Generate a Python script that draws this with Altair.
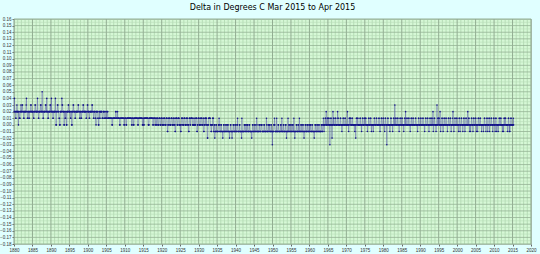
import altair as alt
import pandas as pd

title_text = "Delta in Degrees C Mar 2015 to Apr 2015"

# Monthly deltas, one string per year starting 1880 (Jan..Dec).
# code: '0'..'5' -> 0.00..0.05, 'a'..'d' -> -0.01..-0.04
start_year = 1880
year_codes = [
    "242221122322", "220221112232", "223322211222", "222342211222", "112222332222",
    "222112223322", "222242211222", "223322252211", "222222332242", "221122222332",
    "242222112222", "224200222332", "221100222224", "332222002211", "220022223322",
    "222112200222", "332222112222", "222233222112", "221122223322", "222222112233",
    "222211222222", "233222112222", "110222221100", "221122222211", "112222111122",
    "111221111111", "111111001111", "111111221111", "211111100111", "111111111001",
    "111100111111", "111111111100", "111100111111", "111111001111", "111111111001",
    "100111111111", "111100011111", "111111100111", "110011100111", "000111100011",
    "110000111100", "001111aa0011", "110000111100", "0011100aa111", "110001111000",
    "0aa011110000", "111100001111", "000aa1110011", "111100001100", "001111aa0011",
    "110000111100", "0011aa001110", "1100bb001111", "1100aa000111", "aa00baaa00aa",
    "aaaa0010aaaa", "00aaaabaa00a", "aaaa00aaaa00", "aaaabaa00aaa", "baaa00aaaa00",
    "aaaa001aaaaa", "00aaaaab1aaa", "aaaa00aaa00a", "aa00aaaa00aa", "aaaabaa00aaa",
    "aa00aaaa10aa", "aaaa00aaaa00", "00aaaaaa00aa", "aaaa10aaaa00", "aa00aaaa0aac",
    "aaaa0010aaaa", "a1aaaa00aaaa", "aa00aa1aaaa0", "0aaaaa00abaa", "aa1aa00aaaa0",
    "0aaaa00aa1aa", "baaaa00aaaa0", "0aa1aaaa00aa", "aa00aabaaa00", "aaaa00aaaa00",
    "aa00aaaa00aa", "aaabaa00aaaa", "00aaaa00aaaa", "aa00aaa0010a", "000110200011",
    "001100c00110", "0b0020110000", "110000021100", "000011000a00", "011000011000",
    "0002000a0110", "110000110000", "000a00b01100", "110000001100", "0a0011000011",
    "00110000a000", "110000110a00", "000a00110000", "011000000110", "0a0001100001",
    "1000a011000c", "001100000a00", "110000a00110", "030011000011", "000a00110000",
    "110000a00110", "200011000011", "000a00110000", "110000001100", "000a00110000",
    "011000001100", "00a001100001", "1000a0011000", "011002a00110", "000a00300110",
    "110020a00011", "00a001100001", "1000a0011000", "0110a0000120", "0a0011000011",
    "0000a0110a00", "011000a00110", "0a0011000020", "0110a00a0011", "000a01100001",
    "10a000a01100", "0011000a0000", "0a0011000a00", "110a00011a00", "0011000a0011",
    "000a0110a000", "0a0011000110", "000a00a01100", "1100000a0011", "0a0a00110000",
    "0010",
]
code_values = {"0": 0.0, "1": 0.01, "2": 0.02, "3": 0.03, "4": 0.04, "5": 0.05,
               "a": -0.01, "b": -0.02, "c": -0.03, "d": -0.04}

x_ticks = [1880, 1885, 1890, 1895, 1900, 1905, 1910, 1915, 1920, 1925, 1930, 1935,
           1940, 1945, 1950, 1955, 1960, 1965, 1970, 1975, 1980, 1985, 1990, 1995,
           2000, 2005, 2010, 2015, 2020]
y_ticks = [round(-0.18 + 0.01 * i, 2) for i in range(35)]
x_minor = [y for y in range(1880, 2021) if y % 5 != 0]
y_minor = [round(-0.175 + 0.01 * i, 3) for i in range(34)]

rows = []
for i, s in enumerate(year_codes):
    for m, c in enumerate(s):
        rows.append({"t": start_year + i + (m + 0.5) / 12.0, "v": code_values[c]})
df = pd.DataFrame(rows)

xs = alt.Scale(domain=[1880, 2020], nice=False, zero=False)
ys = alt.Scale(domain=[-0.18, 0.16], nice=False, zero=False)

x_axis = alt.Axis(values=x_ticks, format="d", labelFontSize=4.5, tickSize=2,
                  labelPadding=1, grid=False, title=None, labelColor="#333333",
                  domain=False, tickColor="#666666", labelFlush=False,
                  labelOverlap=False)
y_axis = alt.Axis(values=y_ticks, format=".2f", labelFontSize=4.5, tickSize=2,
                  labelPadding=1, grid=False, title=None, labelColor="#333333",
                  domain=False, tickColor="#666666", labelFlush=False,
                  labelOverlap=False)

minor_x = alt.Chart(pd.DataFrame({"x": x_minor})).mark_rule(
    color="#a9d3a9", strokeWidth=0.7).encode(x=alt.X("x:Q", scale=xs, axis=x_axis))
minor_y = alt.Chart(pd.DataFrame({"y": y_minor})).mark_rule(
    color="#b9dcb9", strokeWidth=0.6).encode(y=alt.Y("y:Q", scale=ys, axis=y_axis))
major_x = alt.Chart(pd.DataFrame({"x": x_ticks})).mark_rule(
    color="#8aa58a", strokeWidth=0.9).encode(x=alt.X("x:Q", scale=xs, axis=x_axis))
major_y = alt.Chart(pd.DataFrame({"y": y_ticks})).mark_rule(
    color="#96b296", strokeWidth=0.8).encode(y=alt.Y("y:Q", scale=ys, axis=y_axis))

line = alt.Chart(df).mark_line(
    color="#4a4aa8", strokeWidth=0.5, opacity=0.8,
    point=alt.OverlayMarkDef(color="#15158a", size=2.5, filled=True, opacity=1),
).encode(
    x=alt.X("t:Q", scale=xs, axis=x_axis),
    y=alt.Y("v:Q", scale=ys, axis=y_axis),
)

chart = alt.layer(minor_x, minor_y, major_x, major_y, line).properties(
    width=517,
    height=225,
    title=alt.TitleParams(title_text, fontSize=8, font="DejaVu Sans",
                          fontWeight="normal", anchor="middle", offset=5, dy=9,
                          baseline="bottom", color="#000000"),
    autosize=alt.AutoSizeParams(type="none"),
    padding={"left": 14, "top": 19, "right": 9, "bottom": 10},
    background="#e0ffff",
).configure_view(fill="#d6f8d6", stroke="#9aa89a", strokeWidth=0.8)

chart.save("out.html", embed_options={"renderer": "svg", "actions": False})
